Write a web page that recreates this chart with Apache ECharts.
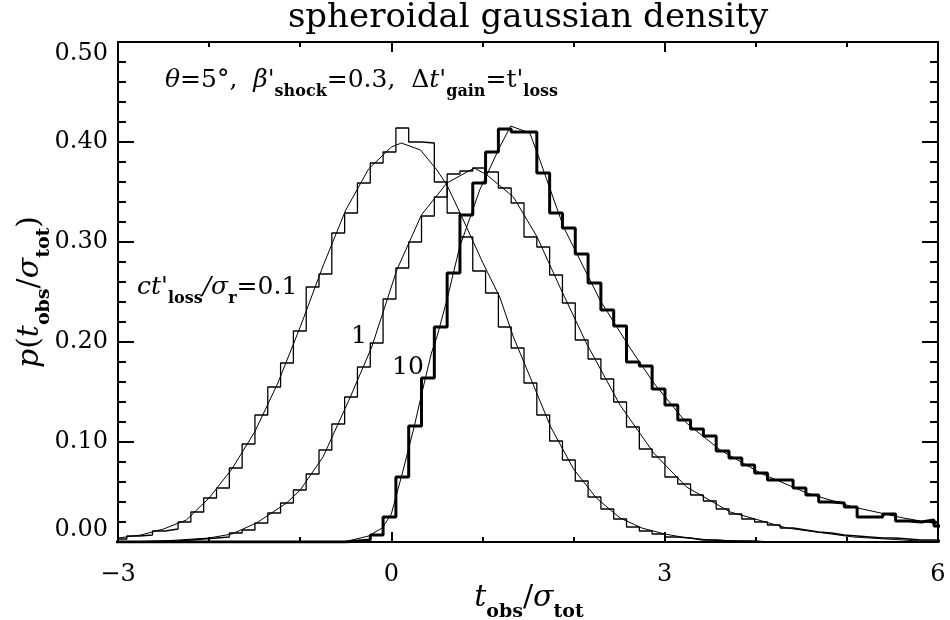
<!DOCTYPE html>
<html><head><meta charset="utf-8">
<script src="https://cdn.jsdelivr.net/npm/echarts@6/dist/echarts.min.js"></script>
<style>html,body{margin:0;padding:0;background:#fff}#c{width:950px;height:620px}</style>
</head><body><div id="c"></div>
<script>
// ---- data ----
const X_MIN = -3, X_MAX = 6, X_INTERVAL = 3;
const Y_MIN = 0, Y_MAX = 0.5, Y_INTERVAL = 0.1;

// histogram bins: left edge of bin index k is BIN_ORIGIN + k*BIN_WIDTH, k from FIRST_BIN
const BIN_ORIGIN = 0.05;
const BIN_WIDTH = 0.140625;
const FIRST_BIN = -22;

// ct'loss/sigma_r = 0.1
const histA = [
  0.003,0.006,0.007,0.011,0.013,0.020,0.030,0.044,0.054,0.074,0.098,0.127,0.155,0.179,0.211,0.255,0.268,0.309,0.329,0.359,0.379,0.390,
  0.414,0.400,0.399,0.360,0.329,0.305,0.271,0.249,0.215,0.194,0.159,0.127,0.101,0.082,0.061,0.045,0.033,0.023,0.015,0.011,0.008,0.005,
  0.004,0.002,0.002,0.001,0.001,0.001,0,0,0,0,0,0,0,0,0,0,0,0,0,0,0
];
// ct'loss/sigma_r = 1
const histB = [
  0,0,0.0005,0.001,0.001,0.002,0.003,0.004,0.005,0.009,0.012,0.019,0.029,0.039,0.052,0.068,0.092,0.118,0.145,0.175,0.199,0.243,
  0.274,0.300,0.326,0.345,0.368,0.371,0.374,0.370,0.354,0.339,0.305,0.295,0.267,0.239,0.202,0.183,0.163,0.140,0.115,0.093,0.085,0.065,
  0.058,0.047,0.041,0.033,0.028,0.023,0.020,0.017,0.014,0.012,0.010,0.009,0.007,0.006,0.005,0.004,0.004,0.003,0.002,0.002,0.001
];
// ct'loss/sigma_r = 10
const histC = [
  0,0,0,0,0,0,0,0,0,0,0,0,0,0,0,0,0,0,0.001,0.002,0.007,0.025,
  0.065,0.116,0.164,0.215,0.269,0.327,0.359,0.390,0.413,0.410,0.410,0.369,0.329,0.314,0.288,0.259,0.232,0.216,0.180,0.176,0.153,0.137,
  0.122,0.113,0.106,0.091,0.084,0.077,0.069,0.062,0.062,0.054,0.047,0.040,0.039,0.035,0.025,0.025,0.028,0.021,0.020,0.022,0.016
];

// smooth model curves
const curveAx = [-3,-2.75,-2.5,-2.25,-2,-1.75,-1.5,-1.25,-1,-0.75,-0.5,-0.25,0,0.11,0.32,0.5,0.61,0.75,1,1.19,1.34,1.5,1.75,2,2.25,2.51,2.75,3,3.25,3.5,4,5,6];
const curveAy = [0.004,0.007,0.013,0.022,0.044,0.073,0.110,0.158,0.215,0.276,0.332,0.373,0.395,0.399,0.392,0.372,0.357,0.330,0.280,0.245,0.205,0.170,0.115,0.073,0.044,0.024,0.014,0.008,0.004,0.002,0.0005,0,0];
const curveBx = [-3,-2.5,-2,-1.75,-1.48,-1.15,-1,-0.75,-0.45,-0.215,0.06,0.33,0.61,0.91,1.05,1.34,1.6,1.85,2.14,2.51,2.88,3.24,3.72,4.34,5.07,5.8,6];
const curveBy = [0,0.001,0.004,0.008,0.019,0.039,0.052,0.085,0.145,0.195,0.272,0.327,0.359,0.374,0.367,0.345,0.305,0.255,0.199,0.137,0.089,0.055,0.030,0.014,0.005,0.001,0.001];
const curveCx = [-3,-1,-0.5,-0.25,-0.1,0,0.13,0.25,0.33,0.44,0.5,0.61,0.75,0.97,1.19,1.31,1.52,1.63,1.89,2.18,2.29,2.62,2.88,3.24,3.61,4.05,4.56,5.07,5.62,6];
const curveCy = [0,0,0.0005,0.006,0.014,0.028,0.072,0.115,0.147,0.189,0.205,0.242,0.295,0.352,0.395,0.416,0.409,0.382,0.315,0.262,0.242,0.194,0.159,0.119,0.092,0.069,0.049,0.035,0.024,0.018];

// ---- build ----
function histData(vals){
  const d = [];
  for (let i = 0; i < vals.length; i++) d.push([BIN_ORIGIN + (FIRST_BIN + i) * BIN_WIDTH, vals[i]]);
  d.push([BIN_ORIGIN + (FIRST_BIN + vals.length) * BIN_WIDTH, vals[vals.length - 1]]);
  return d;
}
function zip(xs, ys){ return xs.map((x, i) => [x, ys[i]]); }

const FONT = 'DejaVu Serif';
const BLACK = '#000';

function xAxisCfg(pos, showLabel){
  return {
    type:'value', position:pos, min:X_MIN, max:X_MAX, interval:X_INTERVAL,
    axisLine:{show:true,onZero:false,lineStyle:{color:BLACK,width:2}},
    axisTick:{show:true,inside:true,length:10,lineStyle:{color:BLACK,width:2}},
    minorTick:{show:true,splitNumber:3,length:5,lineStyle:{color:BLACK,width:2}},
    splitLine:{show:false}, minorSplitLine:{show:false},
    axisLabel:{show:showLabel,margin:21,fontFamily:FONT,fontSize:24,color:BLACK,
      formatter:v => v < 0 ? '\u2212' + Math.abs(v) : String(v)}
  };
}
function yAxisCfg(pos, showLabel){
  return {
    type:'value', position:pos, min:Y_MIN, max:Y_MAX, interval:Y_INTERVAL,
    axisLine:{show:true,onZero:false,lineStyle:{color:BLACK,width:2}},
    axisTick:{show:true,inside:true,length:16,lineStyle:{color:BLACK,width:2}},
    minorTick:{show:true,splitNumber:5,length:8,lineStyle:{color:BLACK,width:2}},
    splitLine:{show:false}, minorSplitLine:{show:false},
    axisLabel:{show:showLabel,margin:10,fontFamily:FONT,fontSize:24,color:BLACK,
      verticalAlignMinLabel:'bottom', verticalAlignMaxLabel:'top',
      formatter:v => v.toFixed(2)}
  };
}

const RICH = {
  n:{fontFamily:FONT,fontSize:25,fill:BLACK},
  i:{fontFamily:FONT,fontSize:25,fontStyle:'italic',fill:BLACK},
  s:{fontFamily:FONT,fontSize:16,fontWeight:'bold',fill:BLACK,padding:[24,0,0,0]}
};
const RICH_AXIS = {
  n:{fontFamily:FONT,fontSize:30,fill:BLACK},
  i:{fontFamily:FONT,fontSize:30,fontStyle:'italic',fill:BLACK},
  s:{fontFamily:FONT,fontSize:19,fontWeight:'bold',fill:BLACK,padding:[28,0,0,0]}
};
function txt(x, y, text, align, extra, rich){
  return Object.assign({type:'text', x:x, y:y, z:100,
    style:{text:text, rich:rich || RICH, fontFamily:FONT, fontSize:25, fill:BLACK, align:align, verticalAlign:'middle'}}, extra || {});
}

function line(data, width, z){
  return {type:'line', data:data, symbol:'none', xAxisIndex:0, yAxisIndex:0, z:z,
    lineStyle:{color:BLACK,width:width}, itemStyle:{color:BLACK}, silent:true, animation:false};
}
function hist(vals, width, z){
  const s = line(histData(vals), width, z);
  s.step = 'end';
  return s;
}

const chart = echarts.init(document.getElementById('c'), null, {renderer:'canvas'});
chart.setOption({
  backgroundColor:'#fff',
  animation:false,
  grid:{left:118,right:12,top:42,bottom:78,containLabel:false},
  xAxis:[xAxisCfg('bottom',true), xAxisCfg('top',false)],
  yAxis:[yAxisCfg('left',true), yAxisCfg('right',false)],
  series:[
    line(zip(curveAx,curveAy),1,2),
    line(zip(curveBx,curveBy),1,2),
    line(zip(curveCx,curveCy),1,2),
    hist(histA,1.3,3),
    hist(histB,1.3,3),
    hist(histC,3,4)
  ],
  graphic:[
    {type:'text', x:528, y:18, z:100, style:{text:'spheroidal gaussian density', fontFamily:FONT, fontSize:34, fill:BLACK, align:'center', verticalAlign:'middle'}},
    txt(165, 80, "{i|θ}{n|=5°,  }{i|β'}{s|shock}{n|=0.3,  }{n|Δ}{i|t'}{s|gain}{n|=t'}{s|loss}", 'left'),
    txt(137, 287, "{i|ct'}{s|loss}{i|/σ}{s|r}{n|=0.1}", 'left'),
    txt(359, 336, "{n|1}", 'center'),
    txt(408, 367, "{n|10}", 'center'),
    txt(529, 598, "{i|t}{s|obs}{n|/}{i|σ}{s|tot}", 'center', null, RICH_AXIS),
    txt(30, 292, "{i|p}{n|(}{i|t}{s|obs}{n|/}{i|σ}{s|tot}{n|)}", 'center', {rotation:Math.PI/2}, RICH_AXIS)
  ]
});
</script>
</body></html>
